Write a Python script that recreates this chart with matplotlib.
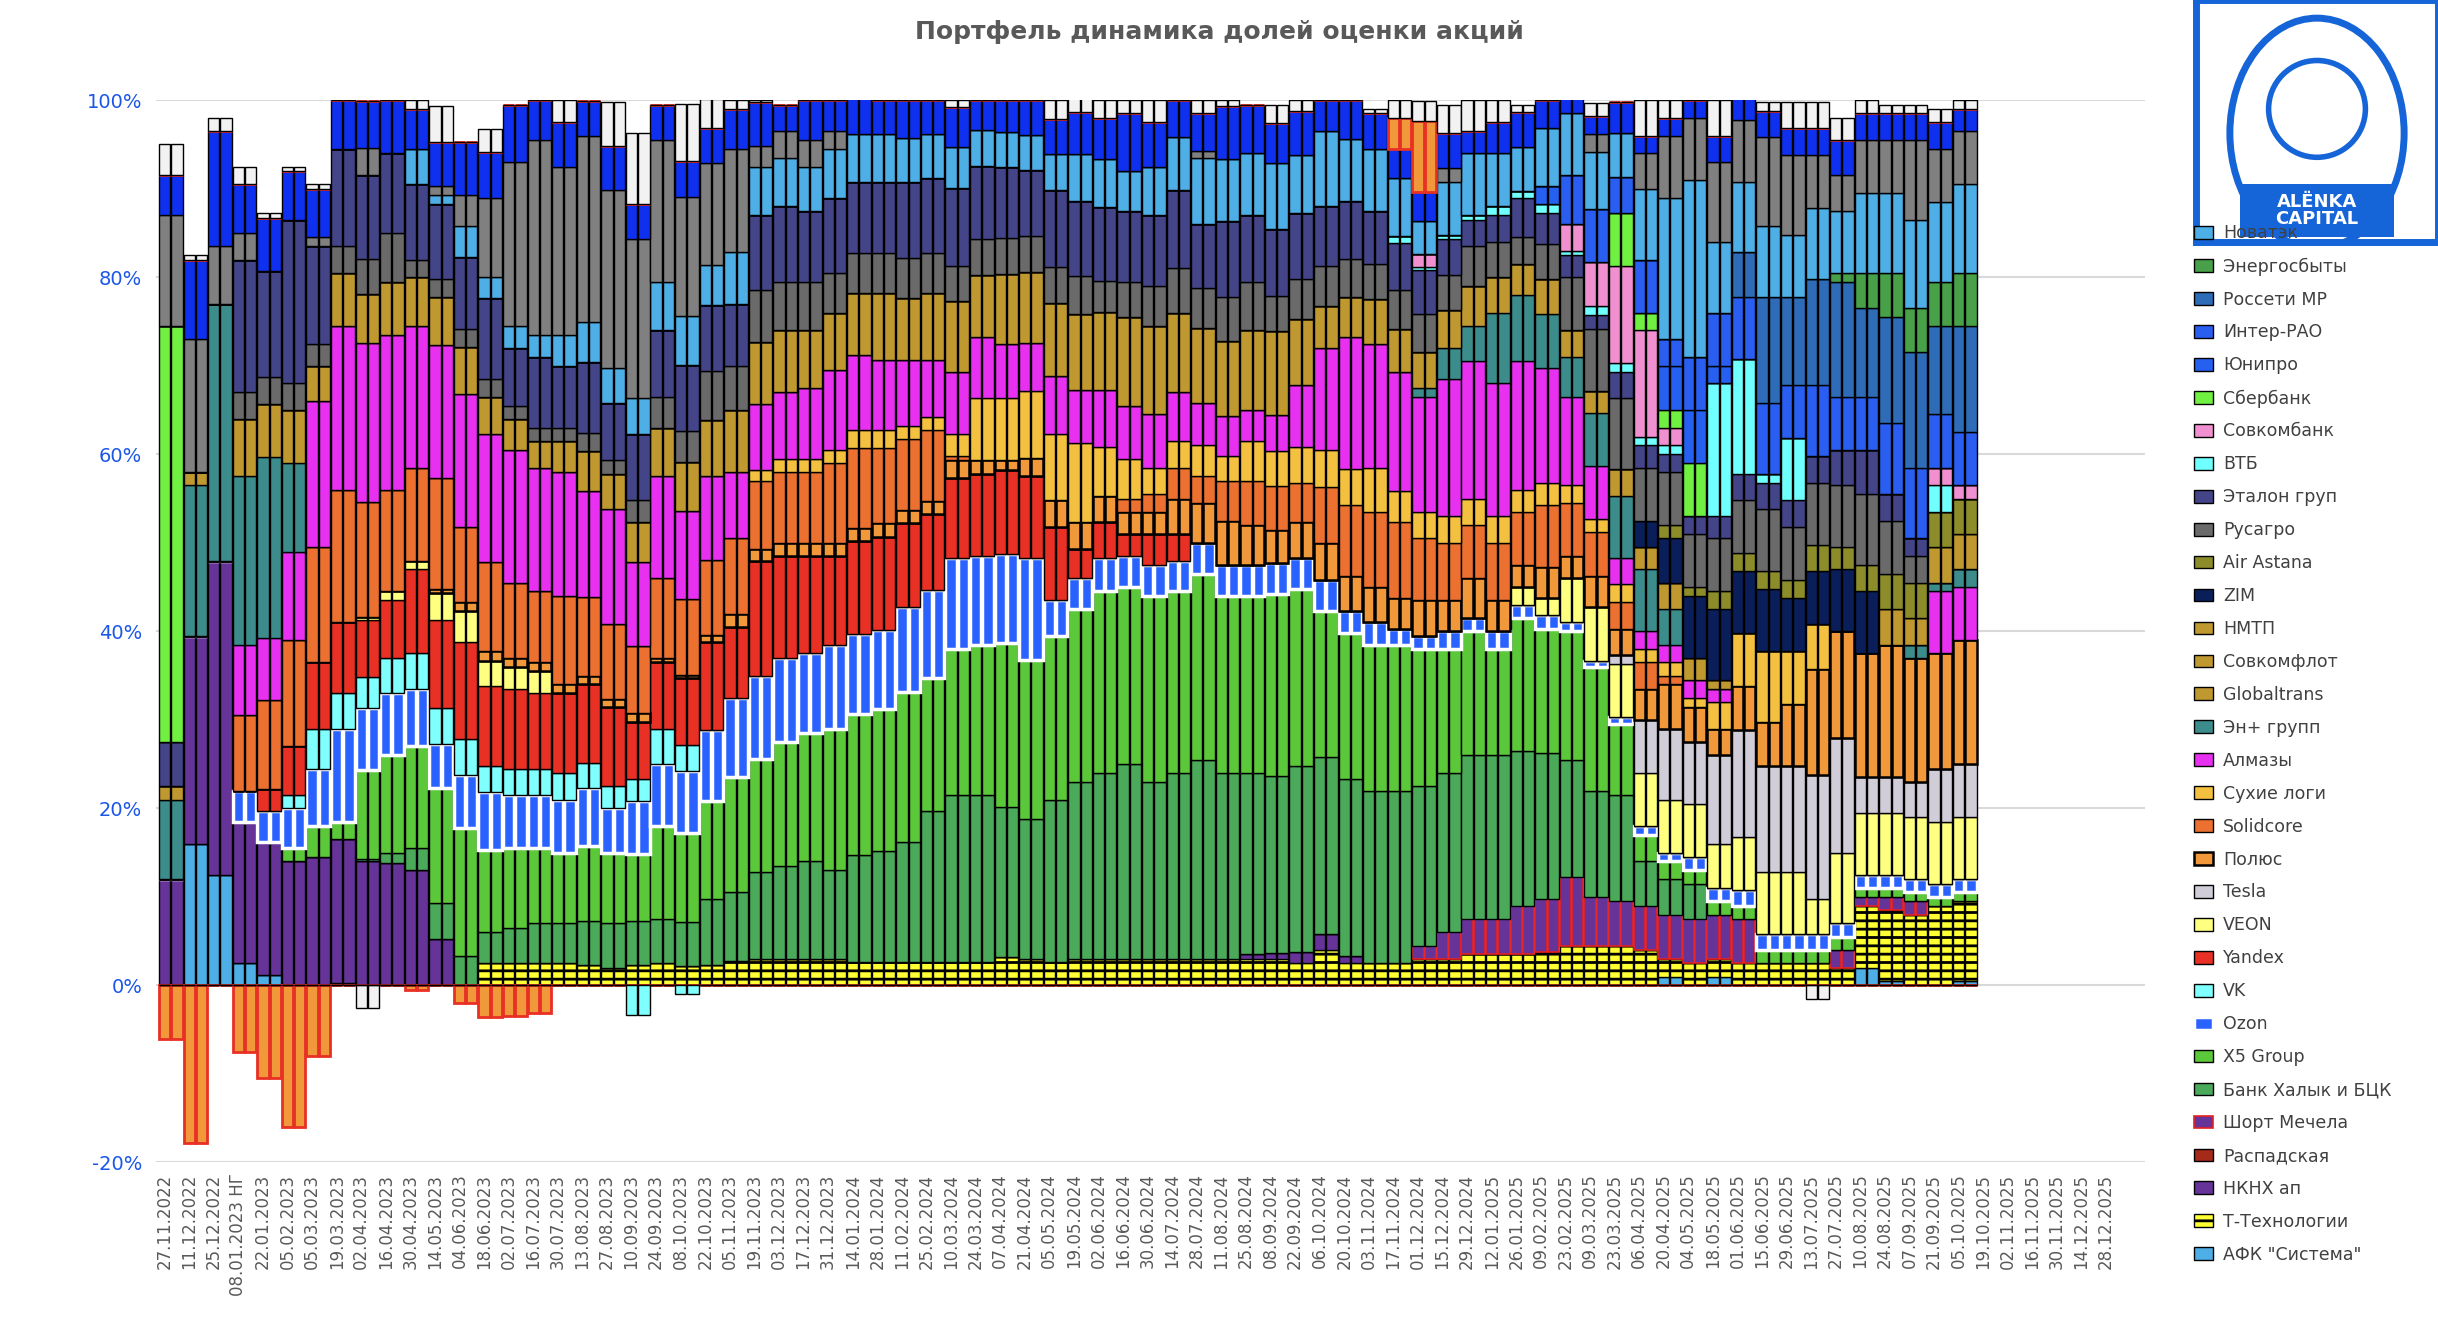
import numpy as np
import matplotlib
matplotlib.use("Agg")
import matplotlib.pyplot as plt
from matplotlib.patches import Rectangle, Circle, Ellipse

plt.rcParams["font.family"] = ["DejaVu Sans"]
plt.rcParams["hatch.linewidth"] = 2.0

# ── weekly labels (every second week is labelled) ──
TICK_LABELS = [
    "27.11.2022", "11.12.2022", "25.12.2022", "08.01.2023 НГ", "22.01.2023", "05.02.2023",
    "05.03.2023", "19.03.2023", "02.04.2023", "16.04.2023", "30.04.2023", "14.05.2023",
    "04.06.2023", "18.06.2023", "02.07.2023", "16.07.2023", "30.07.2023", "13.08.2023",
    "27.08.2023", "10.09.2023", "24.09.2023", "08.10.2023", "22.10.2023", "05.11.2023",
    "19.11.2023", "03.12.2023", "17.12.2023", "31.12.2023", "14.01.2024", "28.01.2024",
    "11.02.2024", "25.02.2024", "10.03.2024", "24.03.2024", "07.04.2024", "21.04.2024",
    "05.05.2024", "19.05.2024", "02.06.2024", "16.06.2024", "30.06.2024", "14.07.2024",
    "28.07.2024", "11.08.2024", "25.08.2024", "08.09.2024", "22.09.2024", "06.10.2024",
    "20.10.2024", "03.11.2024", "17.11.2024", "01.12.2024", "15.12.2024", "29.12.2024",
    "12.01.2025", "26.01.2025", "09.02.2025", "23.02.2025", "09.03.2025", "23.03.2025",
    "06.04.2025", "20.04.2025", "04.05.2025", "18.05.2025", "01.06.2025", "15.06.2025",
    "29.06.2025", "13.07.2025", "27.07.2025", "10.08.2025", "24.08.2025", "07.09.2025",
    "21.09.2025", "05.10.2025", "19.10.2025", "02.11.2025", "16.11.2025", "30.11.2025",
    "14.12.2025", "28.12.2025",
]
N_WEEKS = 2 * len(TICK_LABELS)
N_DATA = 148

# ── shares, % of portfolio, one value per two-week period ──
AFK = [0, 16, 12.5, 2.5, 1.2, 0, 0, .3] + [0]*53 + [1, 0, 1, 0, 0, 0, 0, 0, 2, .5, 0, 0, .5, .8]
TT = [0]*13 + [2.5, 2.5, 2.5, 2.5, 2.3, 2, 2.3, 2.5, 2.2, 2.3, 2.8, 3, 3, 3, 3, 2.7, 2.7, 2.7, 2.7, 2.7,
               2.7, 3.2, 3, 2.7, 3, 3, 3, 3, 3, 3, 3, 3, 3, 2.5, 4, 2.5, 2.5, 2.5, 3, 3,
               3.5, 3.5, 3.5, 3.8, 4.5, 4.5, 4.5, 4, 2, 2.5, 2, 2.5, 2.5, 2.5, 2.5, 2, 7, 8, 8, 9, 9, 8.5]
NKNH = [12, 23.5, 35.5, 16, 15, 14, 14.5, 16.2, 14, 13.8, 13, 5.3] + [0]*32 + [.5, .7, 1.3, 1.8, .8] + [0]*26
RASP = [0]*75
MECH = [0]*51 + [1.5, 3, 4, 4, 5.5, 6, 7.8, 5.5, 5, 5, 5, 5, 5, 5, 0, 0, 0, 2, 1, 1.5, 1.5, 0, 0, 0]
HAL = [0]*8 + [.3, 1.2, 2.5, 4, 3.3, 3.5, 4, 4.5, 4.5, 5, 5, 5, 5, 5, 7.5, 7.7, 9.8, 10.5, 11, 10,
               12, 12.5, 13.5, 17, 18.8, 18.8, 17, 15.8, 18.3, 20, 21, 22, 20, 21, 22.5, 21, 20.5, 20, 21, 20,
               20, 19.5, 19.5, 18, 18, 18.5, 18.5, 17.5, 16.5, 13.2, 12, 12, 5, 4, 4] + [0]*12
X5 = [0]*5 + [1.5, 3.5, 2, 10, 11, 11.5, 13, 14.5, 9.3, 9, 8.5, 8, 8.5, 8, 7.5, 10.5, 10, 11, 13, 12.8,
              14, 14.5, 16, 16, 16, 17, 15, 16.5, 17, 18.5, 18, 18.5, 19.5, 20.5, 20, 21, 20.5, 21, 20, 20,
              20.5, 20, 16.5, 16.5, 16.5, 16.5, 15.5, 14, 14, 12, 15, 14, 14.5, 14, 8, 3, 2, 1.5, 1.5, 1.5,
              1.5, 1.5, 1.5, 1.5, 1, 1, 1, 1, 1, 1]
OZ = [0]*3 + [3.5, 3.5, 4.5, 6.5, 10.5, 7, 7, 6.5, 5, 6, 6.5, 6, 6, 6, 6.5, 5, 6,
              7, 7, 8, 9, 9.4, 9.5, 9, 9.5, 9, 9, 9.5, 10, 10.3, 10, 10, 11.5, 4, 3.5, 3.8, 3.5,
              3.5, 3.5, 3.5, 3.5, 3.5, 3.5, 3.5, 3.5, 2.5, 2.5, 1.8, 1.5, 2, 1.5, 2, 1.5, 1.5, 1, .7, .8,
              1, 1, 1.5, 1.5, 1.8, 1.8, 1.8, 1.8, 1.5, 1.5, 1.5, 1.5, 1.5, 1.5, 1.5]
VK = [0]*5 + [1.5, 4.5, 4, 3.5, 4, 4, 4, 4, 3, 3, 3, 3, 2.8, 2.5, 2.5, 4, 3] + [0]*53
YA = [0]*4 + [2.5, 5.5, 7.5, 8, 6.5, 6.5, 9.5, 10, 11, 9, 9, 8.5, 9, 9, 9, 6.5, 7.5, 7.5, 10, 8,
              13, 11.5, 11, 10, 10.5, 10.5, 9.5, 8.5, 9, 9.3, 9.5, 9.3, 8.3, 3.3, 4, 2.5, 3.5, 3] + [0]*33
VEON = [0]*8 + [.3, 1, 1, 3, 3.5, 2.8, 2.5, 2.5] + [0]*39 + [2, 2, 5, 6, 6, 6, 6, 6, 5, 6, 7, 7, 4, 8, 7, 7, 7, 7, 7, 6]
TSLA = [0]*59 + [1, 6, 8, 7, 10, 12, 12, 12, 14, 13, 4, 4, 4, 6, 6, 6.5]
POL = [0]*11 + [.5, 1, 1.2, 1, 1, 1, .8, .8, 1, .5, .4, .8, 1.5, 1.3, 1.5, 1.5, 1.5, 1.5, 1.5,
                1.5, 1.5, 2, 1.5, 1.2, 2, 3, 3, 3, 2.5, 2.5, 4, 4.5, 5, 4.5, 3.7, 4, 4.2, 4, 4,
                3.5, 4, 3.5, 4.5, 3.5, 2.5, 3.5, 2.5, 3.5, 3, 3.5, 5, 4, 3, 5, 5, 7, 12, 12, 14,
                15, 14, 13, 14, 14.5]
SOLID = [0]*3 + [8.5, 10, 12, 13, 15, 13, 11.5, 10.5, 12.5, 8.5, 10, 8.5, 8, 10, 9, 8.5, 7.5, 9, 8.5, 8.5,
                 8.5, 7.7, 8, 8, 9, 9, 8.5, 8, 8, .5] + [0]*6 + [1.5, 2, 3.5, 3, 4.5, 5, 5, 4.5, 6.3, 8,
                 8.5, 8.5, 7, 6.5, 6, 6.5, 6, 7, 6, 5, 3, 3, 1] + [0]*13
SUH = [0]*24 + [1.2, 1.5, 1.5, 1.5, 2, 2, 1.5, 1.5, 2.5, 7, 7, 7.5, 7.5, 9, 5.5, 4.5, 3, 3, 3.5, 2.8,
                4.5, 4, 4, 4.2, 4, 5, 3.5, 3, 3, 3, 3, 2.5, 2.5, 2, 1.5, 2, 1.5, 1.5, 1, 3, 6, 8, 6, 5] + [0]*7
ALM = [0]*3 + [8, 7, 10, 16.5, 18.5, 18, 17.5, 16, 15, 15, 14.5, 15, 14, 14, 12, 13, 9.5, 11.5, 10, 9.5,
               7.5, 7.5, 7.5, 8, 9, 8.5, 8, 7.5, 6.5, 7, 7, 6, 5.5, 6.5, 6, 6.5, 6, 6, 5.5, 4.8,
               4.5, 3.5, 4, 7, 11.5, 15, 14, 13.5, 13, 15.5, 15.5, 15, 14.5, 13, 10, 6, 3, 2, 2, 2,
               1.5] + [0]*8 + [7, 6, 6]
ENP = [9, 17, 29, 19, 20.5, 10] + [0]*45 + [1, 3.5, 4, 8, 7.5, 6, 4.5, 6, 7, 7, 4] + [0]*9 + [1.5, 1, 2, 2.5]
GLOB = [1.5, 1.5, 0, 6.5, 6, 6, 4, 6, 5.5, 6, 5.5, 5.5, 5.3, 4.2, 3.5, 3, 3.5, 4.5, 4, 4.5,
        5.5, 5.5, 6.3, 7, 7, 7, 6.5, 6.5, 7, 7.5, 7, 7.5, 8, 7, 8, 8, 8.3, 8.5, 8.8, 10,
        10, 9, 8.5, 8.5, 9, 9.5, 7.5, 4.8, 4.5, 5, 4.8, 4, 4.3, 4.5, 4, 3.5, 4, 3, 2.5, 3,
        2.5, 3, 2.5, 1] + [0]*11
SCF = [0]*75
NMTP = [0]*70 + [4, 3, 4, 4, 4]
ZIM = [0]*60 + [3, 5, 7, 8, 7, 7, 6, 6, 7, 7] + [0]*5
AIR = [0]*61 + [1.5, 1, 2, 2, 2, 2, 3, 2.5, 3, 4, 4, 4, 4, 4]
RUS = [0]*3 + [3, 3, 3, 2.5, 3, 4, 5.5, 2, 2, 2, 2, 1.5, 1.5, 1.5, 2, 1.5, 2.5, 3.5, 3.5, 5.5,
               5, 5.8, 5.5, 5.5, 4.5, 4.5, 4.5, 4.5, 4.5, 4, 4, 4, 4, 4, 4.3, 3.5, 4, 4.5, 5, 4.5,
               5, 5.5, 4, 4.5, 4.5, 4.3, 4, 4.5, 4.3, 4, 4.5, 4, 3, 4, 6, 7, 8, 6, 6, 6,
               6, 6, 7, 6, 7, 7, 8, 6, 3] + [0]*3
ETAL = [5, 0, 0, 15, 12, 18.5, 11, 11, 9.5, 9, 8.5, 8.5, 8.2, 9.2, 6.5, 8, 7, 8, 6.5, 7.5,
        7.5, 7.5, 7.5, 7, 8.5, 8.5, 8, 8.5, 8, 8, 8.5, 8.5, 8.8, 8.3, 8, 7.5, 8.8, 8.5, 8.3, 8,
        8, 8.8, 7.2, 8.5, 7.5, 7.5, 7.5, 6.7, 6.5, 6, 5.3, 5, 4, 3, 3, 4.5, 3.5, 2.5, 1.5, 3,
        2.5, 2, 2, 2.5, 3, 3, 3, 3, 4, 5, 3, 2] + [0]*3
VTB = [0]*50 + [.8, .3, .5, .5, 1, .7, 1, .5, 1, 1, 1, 1, 0, 15, 13, 1, 7, 0, 0, 0, 0, 0, 3, 0, 0]
SCB = [0]*51 + [1.5, 0, 0, 0, 0, 0, 3, 5, 11, 12, 2] + [0]*10 + [2, 1.5, 0]
SBER = [47] + [0]*58 + [6, 2, 2, 6] + [0]*12
UNI = [0]*56 + [2, 0, 0, 0, 0, 5, 6, 2] + [0]*11
IRAO = [0]*57 + [5.5, 6, 4, 6, 3, 6, 6, 7, 8, 6, 8, 6, 6, 8, 8, 6, 6, 6]
RMR = [0]*64 + [5, 12, 10, 12, 13, 10, 12, 13, 10, 12, 12]
ENS = [0]*68 + [1, 4, 5, 5, 5, 6, 6]
NVTK = [0]*10 + [4, 1, 3.5, 2.3, 2.5, 2.5, 3.5, 4.5, 4, 4, 5.5, 5.5, 4.5, 5.8, 5.5, 5.5, 5, 5.5, 5.5, 5.5,
                 5, 5, 4.6, 4, 4, 4, 4, 5.3, 5.5, 4.5, 5.5, 6, 7.5, 7, 7, 7.5, 6.5, 8.5, 7, 7,
                 6.5, 3.8, 6, 7, 6, 5, 6.5, 7, 6.5, 5, 8, 16, 20, 8, 8, 8, 7, 8, 7, 9, 9, 10, 9, 10, 9.5]
GREY_TOP = [12.5, 15, 6.5, 3, 0, 0, 1, 0, 3, 0, 0, 1, 3.5, 9, 18.5, 22, 19, 21, 20, 18,
            16, 13.5, 11.5, 11.7, 2.3, 3, 3, 2] + [0]*14 + [.8] + [0]*9 + [1.5] + [0]*5 + \
           [2, 0, 4, 7, 7, 9, 7, 10, 9, 6, 4, 6, 6, 9, 6, 6, 6.5]
BLUE_TOP = [4.5, 9, 13, 5.5, 6, 5.5, 5.5, 5.5, 5.3, 6, 4.5, 5, 6, 5.2, 6.5, 4.5, 5, 4, 5, 4,
            4, 4, 4, 4.5, 5, 3, 4.5, 3.5, 4, 3.8, 4.3, 3.8, 4.5, 3.4, 3.6, 3.9, 4, 4.8, 4.6, 6.5,
            5, 4.2, 4.2, 6, 5.5, 4.5, 5, 3.5, 4.4, 4, 3.3, 3.2, 4, 2.5, 3.5, 4, 3.2, 2, 2, 3.5,
            2, 2, 2, 3, 2.5, 3, 3, 3, 4, 3, 3, 3, 3, 2.5, 2.5]
SHORT_TOP = [0]*50 + [3.5, 8] + [0]*23
WHITE_TOP = [3.5, .5, 1.5, 2, .5, .5, .5, 0, 0, 0, 1, 4, 0, 2.5, 0, 0, 2.5, 0, 5, 8,
             0, 6.5, 3.2, 1, .2, 0, 0, 0, 0, 0, 0, 0, .8, 0, 0, 0, 2.1, 1.5, 2, 1.5,
             2.5, 0, 1.5, .7, 0, 2.1, 1.2, 0, 0, .5, 2, 2.3, 3.2, 3.5, 2.5, .8, 0, 0, 1.5, 0,
             4, 2, 1, 4, .5, 1, 3, 3, 2.5, 1.5, 1, 1, 1.5, 1, 1.5]
# negative positions
SHORT_NEG = [-6, -17.75, 0, -7.5, -10.5, -16, -8, 0, 0, 0, -0.5, 0, -2, -3.6, -3.4, -3.1] + [0]*59
WHITE_NEG = [0]*8 + [-2.5] + [0]*58 + [-1.5] + [0]*7
VK_NEG = [0]*19 + [-3.3, 0, -1] + [0]*53

# (label, values, face, edge, linewidth, hatch) from bottom to top
SERIES = [
    ('АФК "Система"', AFK, "#4eaee6", "black", 1.0, None),
    ("Т-Технологии", TT, "#ffff33", "black", 1.0, "--"),
    ("НКНХ ап", NKNH, "#663399", "black", 1.0, None),
    ("Распадская", RASP, "#a52a1a", "black", 1.0, None),
    ("Шорт Мечела", MECH, "#663399", "#e82020", 1.2, None),
    ("Банк Халык и БЦК", HAL, "#4aaa5a", "black", 1.0, None),
    ("X5 Group", X5, "#5bc83a", "black", 1.0, None),
    ("Ozon", OZ, "#2962ff", "white", 2.5, None),
    ("VK", VK, "#80ffff", "black", 1.0, None),
    ("Yandex", YA, "#e83025", "black", 1.0, None),
    ("VEON", VEON, "#ffff80", "black", 1.0, None),
    ("Tesla", TSLA, "#d0ccd8", "black", 1.0, None),
    ("Полюс", POL, "#f0983a", "black", 1.8, None),
    ("Solidcore", SOLID, "#ec7030", "black", 1.0, None),
    ("Сухие логи", SUH, "#f4c040", "black", 1.0, None),
    ("Алмазы", ALM, "#e830f0", "black", 1.0, None),
    ("Эн+ групп", ENP, "#3d8c8c", "black", 1.0, None),
    ("Globaltrans", GLOB, "#c09830", "black", 1.0, None),
    ("Совкомфлот", SCF, "#c09830", "black", 1.0, None),
    ("НМТП", NMTP, "#c09830", "black", 1.0, None),
    ("ZIM", ZIM, "#0a1e5a", "black", 1.0, None),
    ("Air Astana", AIR, "#8c8c2a", "black", 1.0, None),
    ("Русагро", RUS, "#6a6a6a", "black", 1.0, None),
    ("Эталон груп", ETAL, "#444488", "black", 1.0, None),
    ("ВТБ", VTB, "#70ffff", "black", 1.0, None),
    ("Совкомбанк", SCB, "#f090d0", "black", 1.0, None),
    ("Сбербанк", SBER, "#70f040", "black", 1.0, None),
    ("Юнипро", UNI, "#2560f0", "black", 1.0, None),
    ("Интер-РАО", IRAO, "#2a5ef0", "black", 1.0, None),
    ("Россети МР", RMR, "#2e6cb8", "black", 1.0, None),
    ("Энергосбыты", ENS, "#48a048", "black", 1.0, None),
    ("Новатэк", NVTK, "#4eaee6", "black", 1.0, None),
    (None, GREY_TOP, "#808080", "black", 1.0, None),
    (None, BLUE_TOP, "#1030f0", "black", 1.0, None),
    (None, SHORT_TOP, "#f0983a", "#e83025", 2.0, None),
    (None, WHITE_TOP, "#f2f2f2", "black", 1.0, None),
]
NEGATIVE = [
    (SHORT_NEG, "#f0983a", "#e83025", 2.0),
    (WHITE_NEG, "#f2f2f2", "black", 1.0),
    (VK_NEG, "#80ffff", "black", 1.0),
]


def weekly(vals):
    return np.repeat(np.asarray(vals, dtype=float), 2)[:N_DATA]


fig = plt.figure(figsize=(24.38, 13.18), dpi=100, facecolor="white")
ax = fig.add_axes([0.064, 0.118, 0.816, 0.806])

x = np.arange(N_DATA)
bottom = np.zeros(N_DATA)
handles = []
for label, vals, face, edge, lw, hatch in SERIES:
    v = weekly(vals)
    bars = ax.bar(x, v, bottom=bottom, width=0.92, color=face, edgecolor=edge,
                  linewidth=lw, hatch=hatch, zorder=3)
    bottom += v
    if label:
        handles.append((bars, label))

for vals, face, edge, lw in NEGATIVE:
    v = weekly(vals)
    ax.bar(x, v, width=0.92, color=face, edgecolor=edge, linewidth=lw, zorder=3)

ax.set_xlim(-0.7, N_WEEKS + 1.2)
ax.set_ylim(-20, 100)
ax.set_yticks([-20, 0, 20, 40, 60, 80, 100])
ax.set_yticklabels(["-20%", "0%", "20%", "40%", "60%", "80%", "100%"])
ax.tick_params(axis="y", colors="#1a56e8", labelsize=14, length=0, pad=10)
ax.yaxis.grid(True, color="#d9d9d9", linewidth=1.5, zorder=0)
ax.set_axisbelow(True)
ax.set_xticks(np.arange(0, N_WEEKS, 2))
ax.set_xticklabels(TICK_LABELS, rotation=90)
ax.tick_params(axis="x", colors="#595959", labelsize=12, length=0, pad=8)
for s in ax.spines.values():
    s.set_visible(False)

fig.text(0.5, 0.985, "Портфель динамика долей оценки акций", ha="center", va="top",
         fontsize=18, fontweight="bold", color="#595959")

hs = [h for h, _ in handles][::-1]
ls = [l for _, l in handles][::-1]
leg = fig.legend(hs, ls, loc="upper left", bbox_to_anchor=(0.897, 0.835), frameon=False,
                 fontsize=12.5, labelspacing=0.86, handlelength=1.1, handleheight=0.75,
                 handletextpad=0.6, borderaxespad=0)
for t in leg.get_texts():
    t.set_color("#404040")

# ── logo box ──
lax = fig.add_axes([2196 / 2438, 1 - 242 / 1318, 242 / 2438, 242 / 1318])
lax.set_xlim(0, 1)
lax.set_ylim(0, 1)
lax.set_xticks([])
lax.set_yticks([])
lax.set_facecolor("white")
for s in lax.spines.values():
    s.set_color("#1565d8")
    s.set_linewidth(5)
lax.add_patch(Ellipse((0.5, 0.45), 0.72, 0.95, fill=False, edgecolor="#1565d8", linewidth=5))
lax.add_patch(Circle((0.5, 0.55), 0.2, fill=False, edgecolor="#1565d8", linewidth=4))
lax.add_patch(Rectangle((0.18, 0.02), 0.64, 0.22, facecolor="#1565d8", edgecolor="none"))
lax.text(0.5, 0.13, "ALЁNKA\nCAPITAL", ha="center", va="center", color="white",
         fontsize=13, fontweight="bold", linespacing=0.95)

fig.savefig("out.png", dpi=100, facecolor="white")
